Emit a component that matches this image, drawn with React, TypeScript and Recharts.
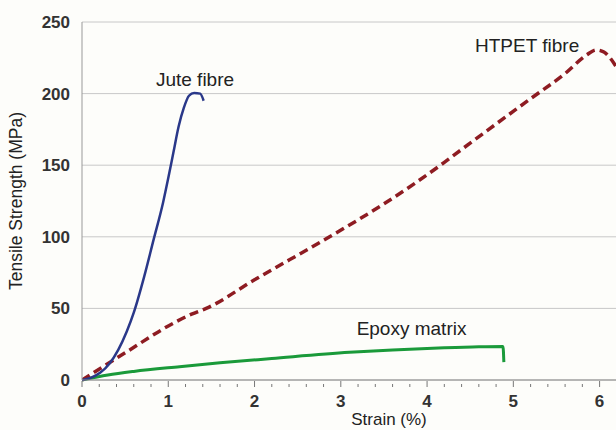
import { LineChart, Line, XAxis, YAxis, CartesianGrid, ReferenceDot, Label } from 'recharts';

// strain (%) vs tensile strength (MPa)
const juteStrain = [0, 0.1, 0.21, 0.32, 0.42, 0.52, 0.6, 0.72, 0.83, 0.94, 1.0, 1.06, 1.12, 1.18, 1.24, 1.3, 1.37, 1.41];
const juteStress = [0, 1.5, 5, 11.5, 21, 34, 47, 72, 98, 124, 141, 159, 177, 190, 198.5, 200.5, 200, 195];

const htpetStrain = [0, 0.5, 1.1, 1.27, 1.44, 2, 2.87, 3.5, 4.2, 4.3, 5.19, 5.6, 5.85, 5.96, 6.05, 6.12, 6.19];
const htpetStress = [0, 19, 41, 46, 50, 70, 100, 123, 152, 156.5, 196, 214, 227, 230.5, 229, 225, 219];

const epoxyStrain = [0, 0.3, 0.6, 1.13, 1.6, 2.2, 3.1, 3.6, 4.2, 4.6, 4.88, 4.89];
const epoxyStress = [0, 3.5, 6, 9.3, 12, 15, 19.3, 21, 22.5, 23.2, 23.4, 12.5];

const xTicks = [0, 0.2, 0.4, 0.6, 0.8, 1, 1.2, 1.4, 1.6, 1.8, 2, 2.2, 2.4, 2.6, 2.8, 3, 3.2, 3.4, 3.6, 3.8, 4, 4.2, 4.4, 4.6, 4.8, 5, 5.2, 5.4, 5.6, 5.8, 6];
const yTicks = [0, 50, 100, 150, 200, 250];

const zip = (xs: number[], ys: number[]) => xs.map((x, i) => ({ x, y: ys[i] }));

const jute = zip(juteStrain, juteStress);
const htpet = zip(htpetStrain, htpetStress);
const epoxy = zip(epoxyStrain, epoxyStress);

const FONT = '"Liberation Sans", Arial, sans-serif';

function XTick(props: any) {
  const { x, y, payload } = props;
  const v = payload.value as number;
  const major = Math.abs(v - Math.round(v)) < 1e-6;
  return (
    <g>
      <line x1={x} x2={x} y1={y - 1} y2={y - (major ? 7 : 4)} stroke="#777" strokeWidth={1} />
      {major && (
        <text x={x} y={y + 19} textAnchor="middle" fontSize={17} fontWeight={700} fill="#333" fontFamily={FONT}>
          {Math.round(v)}
        </text>
      )}
    </g>
  );
}

const labelStyle = { fontSize: 19, fill: '#222', fontFamily: FONT };

export default function App() {
  return (
    <div style={{ position: 'absolute', left: 0, top: 0, width: 616, height: 430, background: '#fdfdfa' }}>
      <LineChart width={616} height={430} margin={{ top: 22, right: 0, left: 30, bottom: 22 }}>
        <CartesianGrid vertical={false} stroke="#c8c8c8" />
        <XAxis
          type="number"
          dataKey="x"
          domain={[0, 6.19]}
          ticks={xTicks}
          interval={0}
          tick={<XTick />}
          tickLine={false}
          axisLine={{ stroke: '#888' }}
          height={28}
          allowDataOverflow
        >
          <Label value="Strain (%)" position="insideBottom" offset={-17} dx={40} style={{ fontSize: 17, fill: '#222', fontFamily: FONT }} />
        </XAxis>
        <YAxis
          type="number"
          dataKey="y"
          domain={[0, 250]}
          ticks={yTicks}
          width={52}
          tickLine={false}
          axisLine={{ stroke: '#999' }}
          tick={{ fontSize: 17, fontWeight: 700, fill: '#333', fontFamily: FONT }}
          tickMargin={6}
        >
          <Label
            value="Tensile Strength (MPa)"
            angle={-90}
            position="insideLeft"
            offset={-14}
            style={{ fontSize: 17.5, fill: '#222', fontFamily: FONT, textAnchor: 'middle' }}
          />
        </YAxis>
        <Line data={epoxy} dataKey="y" type="monotone" stroke="#1a9a3a" strokeWidth={3} dot={false} isAnimationActive={false} />
        <Line data={htpet} dataKey="y" type="monotone" stroke="#8e1c22" strokeWidth={3.5} strokeDasharray="9 5" dot={false} isAnimationActive={false} />
        <Line data={jute} dataKey="y" type="monotone" stroke="#2a3889" strokeWidth={2.5} dot={false} isAnimationActive={false} />
        <ReferenceDot x={1.31} y={210} r={0} label={{ value: 'Jute fibre', position: 'center', style: labelStyle }} />
        <ReferenceDot x={5.16} y={234} r={0} label={{ value: 'HTPET fibre', position: 'center', style: labelStyle }} />
        <ReferenceDot x={3.82} y={36} r={0} label={{ value: 'Epoxy matrix', position: 'center', style: labelStyle }} />
      </LineChart>
    </div>
  );
}
